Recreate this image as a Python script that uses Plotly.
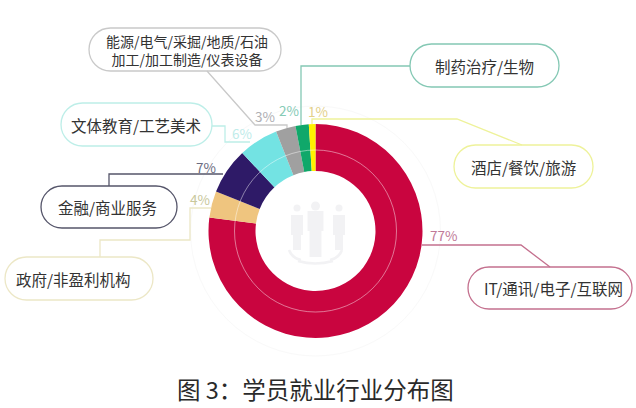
import plotly.graph_objects as go

W, H = 636, 408
FONT = "Noto Sans CJK SC"

categories = ["IT/通讯/电子/互联网", "政府/非盈利机构", "金融/商业服务", "文体教育/工艺美术",
              "能源/电气/采掘/地质/石油<br>加工/加工制造/仪表设备", "制药治疗/生物", "酒店/餐饮/旅游"]
values = [77, 4, 7, 6, 3, 2, 1]
percent_labels = ["77%", "4%", "7%", "6%", "3%", "2%", "1%"]
slice_colors = ["#c9053f", "#efc57f", "#2e1a67", "#73e3e3", "#a0a0a0", "#10a86a", "#fff200"]
line_colors = ["#c4708e", "#ece7c6", "#55556a", "#bdeee8", "#c9c9c9", "#84c8b4", "#eef29a"]
label_colors = ["#c07a98", "#c9c89c", "#6c6c80", "#c0ecea", "#b0b0b4", "#86cbb6", "#e3d089"]
title_text = "图 3：学员就业行业分布图"


def px(x): return x / W
def py(y): return 1 - y / H


CX, CY, R_OUT, R_IN, R_MID, R_FAINT = 315.5, 231, 107, 60, 81, 125

# pill box (x0, y0, x1, y1) per category
boxes = [(468, 267, 632, 309), (5, 257, 153, 300), (41, 186, 177, 228), (61, 103, 212, 146),
         (89, 28, 281, 71), (410, 44, 559, 87), (454, 145, 593, 188)]
text_shift = [3, -6, -2, -1, 2, 0, 0]
leaders = [
    [(422, 245), (521, 245), (550, 267)],
    [(100, 257), (100, 240), (190, 240), (190, 208), (211, 208)],
    [(109, 186), (109, 174), (223, 174)],
    [(212, 126), (225, 126), (225, 142), (250, 142)],
    [(207, 71), (255, 125), (287, 125), (287, 128)],
    [(410, 66), (301, 66), (301, 125)],
    [(522, 145), (457, 119), (312, 119), (312, 124)],
]
label_pos = [(443, 235), (200, 199), (206, 167), (242, 133), (265, 116), (289, 110), (318, 111)]
box_sizes = [15.5, 15.5, 15.5, 15.5, 14, 15.5, 15.5]


def pill(x0, y0, x1, y1):
    r = (y1 - y0) / 2
    k = r * 0.5523
    def p(x, y): return f"{px(x):.5f},{py(y):.5f}"
    return (f"M{p(x0 + r, y0)} L{p(x1 - r, y0)} "
            f"C{p(x1 - r + k, y0)} {p(x1, y0 + r - k)} {p(x1, y0 + r)} "
            f"C{p(x1, y0 + r + k)} {p(x1 - r + k, y1)} {p(x1 - r, y1)} "
            f"L{p(x0 + r, y1)} "
            f"C{p(x0 + r - k, y1)} {p(x0, y0 + r + k)} {p(x0, y0 + r)} "
            f"C{p(x0, y0 + r - k)} {p(x0 + r - k, y0)} {p(x0 + r, y0)} Z")


def circle(cx, cy, r, **kw):
    return dict(type="circle", xref="paper", yref="paper", x0=px(cx - r), x1=px(cx + r),
                y0=py(cy + r), y1=py(cy - r), **kw)


def bar(x0, y0, x1, y1, color):
    return dict(type="rect", xref="paper", yref="paper", x0=px(x0), x1=px(x1), y0=py(y1), y1=py(y0),
                fillcolor=color, line=dict(width=0), layer="above")


fig = go.Figure(go.Pie(
    labels=categories, values=values, sort=False, direction="clockwise", rotation=0,
    hole=R_IN / R_OUT, marker=dict(colors=slice_colors, line=dict(width=0)),
    textinfo="none", showlegend=False, hoverinfo="label+percent",
    domain=dict(x=[px(CX - R_OUT), px(CX + R_OUT)], y=[py(CY + R_OUT), py(CY - R_OUT)]),
))

shapes = [circle(CX, CY, R_FAINT, line=dict(color="#f9f9f9", width=1), layer="below"),
          circle(CX, CY, R_MID, line=dict(color="rgba(255,255,255,0.45)", width=1), layer="above")]

# faint people icon in the hole
ICON = "#f2f2f4"
for cx, top, half, foot, head_r, head_gap in [(297, 217, 6, 250, 3.5, 9), (339, 217, 6, 250, 3.5, 9),
                                              (315.5, 213, 8, 257, 4.5, 7)]:
    shapes.append(circle(cx, top - head_gap, head_r, fillcolor=ICON, line=dict(width=0), layer="above"))
    shapes.append(bar(cx - half, top - 2, cx + half, top + 18, ICON))
    shapes.append(bar(cx - half + 2, top + 18, cx + half - 2, foot, ICON))
shapes.append(dict(type="path", xref="paper", yref="paper", layer="above",
                   path=f"M{px(289):.5f},{py(250):.5f} Q{px(292):.5f},{py(258):.5f} {px(301):.5f},{py(260):.5f} "
                        f"M{px(342):.5f},{py(250):.5f} Q{px(339):.5f},{py(258):.5f} {px(330):.5f},{py(260):.5f} "
                        f"M{px(298):.5f},{py(261):.5f} Q{px(315):.5f},{py(266):.5f} {px(333):.5f},{py(261):.5f}",
                   line=dict(color=ICON, width=2.5)))

annotations = []
for i, cat in enumerate(categories):
    x0, y0, x1, y1 = boxes[i]
    shapes.append(dict(type="path", xref="paper", yref="paper", path=pill(x0, y0, x1, y1),
                       line=dict(color=line_colors[i], width=1.3), fillcolor="rgba(255,255,255,0)"))
    pts = leaders[i]
    shapes.append(dict(type="path", xref="paper", yref="paper",
                       path="M" + " L".join(f"{px(a):.5f},{py(b):.5f}" for a, b in pts),
                       line=dict(color=line_colors[i], width=1.3)))
    annotations.append(dict(x=px((x0 + x1) / 2 + text_shift[i]), y=py((y0 + y1) / 2), xref="paper", yref="paper",
                            text=cat, showarrow=False, xanchor="center", yanchor="middle",
                            font=dict(family=FONT, size=box_sizes[i], color="#333333")))
    lx, ly = label_pos[i]
    annotations.append(dict(x=px(lx), y=py(ly), xref="paper", yref="paper", text=percent_labels[i],
                            showarrow=False, xanchor="center", yanchor="middle",
                            font=dict(family=FONT, size=13.5, color=label_colors[i])))

annotations.append(dict(x=px(315), y=py(389), xref="paper", yref="paper", text=title_text, showarrow=False,
                        xanchor="center", yanchor="middle",
                        font=dict(family=FONT, size=23.5, color="#2a2a2a")))

fig.update_layout(width=W, height=H, margin=dict(l=0, r=0, t=0, b=0), paper_bgcolor="white",
                  plot_bgcolor="white", shapes=shapes, annotations=annotations, showlegend=False)
fig.write_html("out.html", config=dict(displayModeBar=False),
               post_script="document.body.style.margin='0';document.documentElement.style.overflow='hidden';")
